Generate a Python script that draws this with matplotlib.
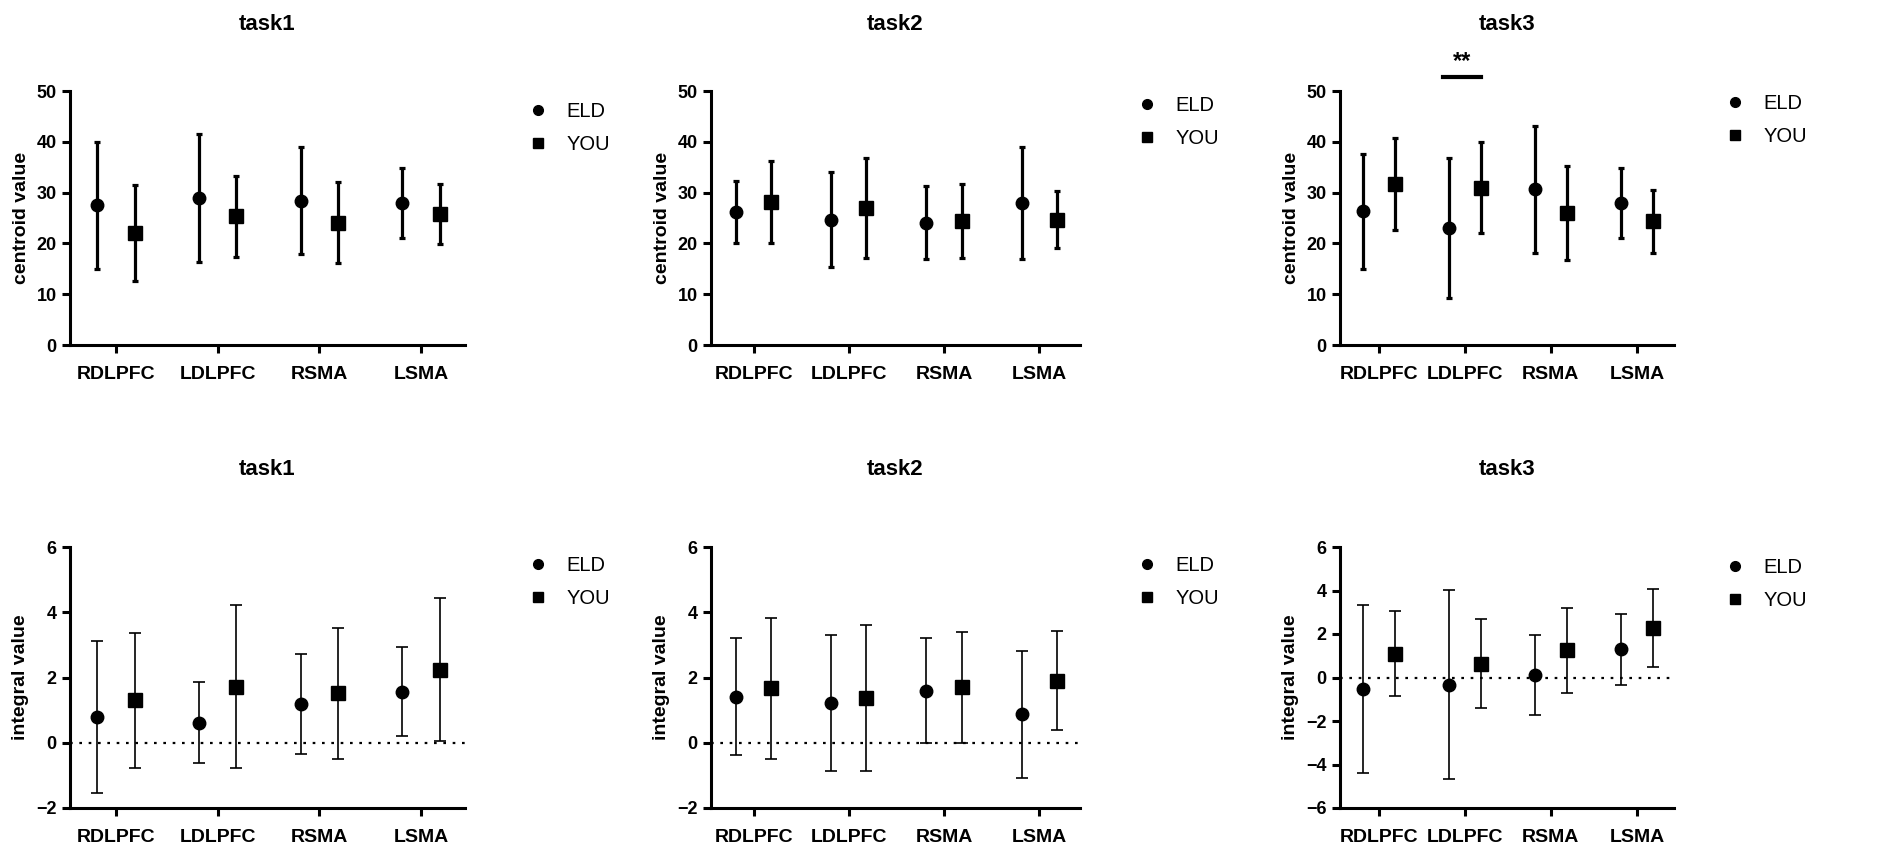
import matplotlib
matplotlib.use('Agg')
import matplotlib.pyplot as plt
import numpy as np
from matplotlib.lines import Line2D

plt.rcParams['font.family'] = ['Liberation Sans', 'DejaVu Sans']

regions = ['RDLPFC', 'LDLPFC', 'RSMA', 'LSMA']
tasks = ['task1', 'task2', 'task3']
groups = ['ELD', 'YOU']

# centroid value: mean and SD per region
cen_eld_mean = [[27.5, 29.0, 28.4, 28.0],
                [26.1, 24.7, 24.1, 27.9],
                [26.3, 23.0, 30.7, 28.0]]
cen_eld_sd = [[12.5, 12.6, 10.5, 6.9],
              [6.1, 9.4, 7.2, 11.0],
              [11.3, 13.8, 12.5, 6.9]]
cen_you_mean = [[22.0, 25.3, 24.1, 25.8],
                [28.1, 27.0, 24.4, 24.7],
                [31.7, 31.0, 26.0, 24.4]]
cen_you_sd = [[9.4, 8.0, 8.0, 5.9],
              [8.1, 9.9, 7.2, 5.7],
              [9.1, 8.9, 9.2, 6.2]]

# integral value: mean and SD per region
int_eld_mean = [[0.80, 0.62, 1.20, 1.57],
                [1.41, 1.21, 1.60, 0.87],
                [-0.52, -0.33, 0.11, 1.30]]
int_eld_sd = [[2.33, 1.23, 1.53, 1.36],
              [1.80, 2.09, 1.60, 1.94],
              [3.87, 4.35, 1.84, 1.63]]
int_you_mean = [[1.30, 1.72, 1.51, 2.24],
                [1.67, 1.37, 1.70, 1.90],
                [1.10, 0.63, 1.25, 2.28]]
int_you_sd = [[2.07, 2.49, 2.00, 2.19],
              [2.16, 2.24, 1.70, 1.51],
              [1.95, 2.05, 1.94, 1.80]]

# layout in pixels (figure 1896 x 844)
W, H = 1896, 844
col_x = [(70, 465), (711, 1080), (1340, 1674)]
top_y = (91, 345)
bot_y = (547, 808)
leg_x = [538, 1147, 1735]
leg_top = [128, 122, 120]
leg_bot = [582, 582, 584]

fig = plt.figure(figsize=(W / 100, H / 100), dpi=100)


def style_axes(ax):
    for s in ['top', 'right']:
        ax.spines[s].set_visible(False)
    for s in ['left', 'bottom']:
        ax.spines[s].set_linewidth(2.2)
    ax.tick_params(axis='both', width=2.2, length=6, direction='out')
    ax.tick_params(axis='y', labelsize=13)
    ax.tick_params(axis='x', labelsize=14, pad=9)
    for lab in ax.get_xticklabels() + ax.get_yticklabels():
        lab.set_fontweight('bold')


def add_legend(ax, x, y):
    handles = [Line2D([], [], marker='o', color='black', ls='none', markersize=7),
               Line2D([], [], marker='s', color='black', ls='none', markersize=7.5)]
    fs = 14.5
    hl = 0.6
    left = x - hl * fs * 1.389 / 2
    ax.legend(handles, groups, loc='center left', frameon=False, fontsize=fs,
              handlelength=hl, handletextpad=1.1, borderpad=0, borderaxespad=0,
              labelspacing=0.7,
              bbox_to_anchor=(left / W, 1 - y / H), bbox_transform=fig.transFigure)


x = np.arange(len(regions))
off = 0.185

for i, task in enumerate(tasks):
    x0, x1 = col_x[i]
    # top row: centroid value
    ax = fig.add_axes([x0 / W, 1 - top_y[1] / H, (x1 - x0) / W, (top_y[1] - top_y[0]) / H])
    ax.errorbar(x - off, cen_eld_mean[i], yerr=cen_eld_sd[i], fmt='o', color='black',
                markersize=9, elinewidth=2.3, capsize=2.5, capthick=2.3)
    ax.errorbar(x + off, cen_you_mean[i], yerr=cen_you_sd[i], fmt='s', color='black',
                markersize=9.5, elinewidth=2.3, capsize=2.5, capthick=2.3)
    ax.set_xlim(-0.45, 3.43)
    ax.set_ylim(0, 50)
    ax.set_yticks(range(0, 51, 10))
    ax.set_xticks(x)
    ax.set_xticklabels(regions)
    ax.set_ylabel('centroid value', fontsize=14, fontweight='bold', labelpad=5)
    ax.set_title(task, fontsize=16, fontweight='bold', pad=44)
    style_axes(ax)
    add_legend(ax, leg_x[i], leg_top[i])
    if i == 2:
        ax.plot([0.75, 1.19], [52.8, 52.8], color='black', lw=3, clip_on=False)
        ax.text(0.97, 55.8, '**', ha='center', va='center', fontsize=17,
                fontweight='bold', clip_on=False)

    # bottom row: integral value
    ax = fig.add_axes([x0 / W, 1 - bot_y[1] / H, (x1 - x0) / W, (bot_y[1] - bot_y[0]) / H])
    ax.axhline(0, color='black', lw=1.6, ls=(0, (1.2, 3)), zorder=1)
    ax.errorbar(x - off, int_eld_mean[i], yerr=int_eld_sd[i], fmt='o', color='black',
                markersize=9, elinewidth=1.2, capsize=4, capthick=1.2, zorder=3)
    ax.errorbar(x + off, int_you_mean[i], yerr=int_you_sd[i], fmt='s', color='black',
                markersize=9.5, elinewidth=1.2, capsize=4, capthick=1.2, zorder=3)
    ax.set_xlim(-0.45, 3.43)
    if i == 2:
        ax.set_ylim(-6, 6)
        ax.set_yticks(range(-6, 7, 2))
    else:
        ax.set_ylim(-2, 6)
        ax.set_yticks(range(-2, 7, 2))
    ax.set_xticks(x)
    ax.set_xticklabels(regions)
    ax.set_ylabel('integral value', fontsize=14, fontweight='bold', labelpad=5)
    ax.set_title(task, fontsize=16, fontweight='bold', pad=52)
    style_axes(ax)
    add_legend(ax, leg_x[i], leg_bot[i])

fig.savefig('out.png', dpi=100, facecolor='white')
